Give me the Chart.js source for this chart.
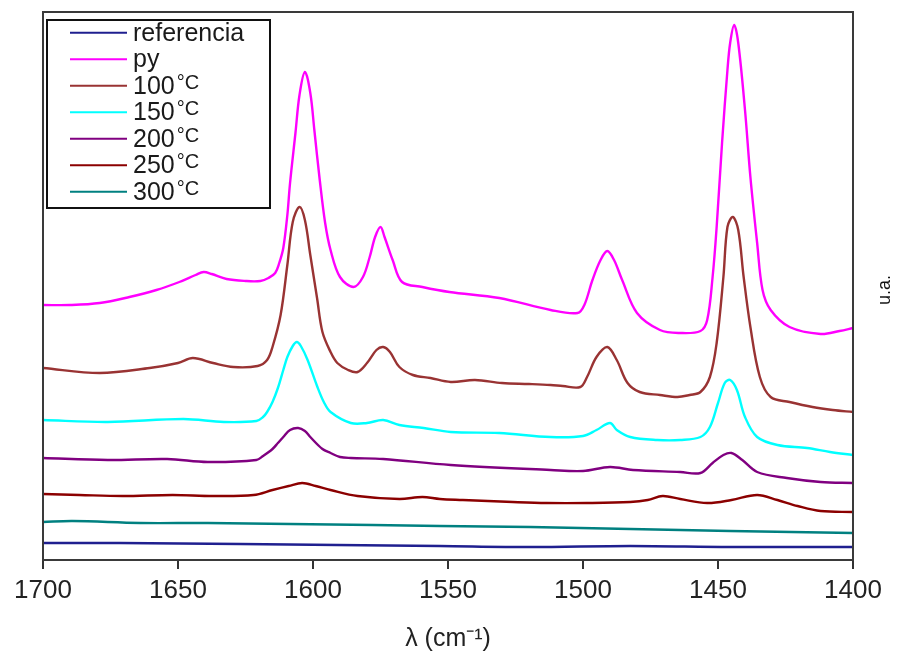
<!DOCTYPE html>
<html>
<head>
<meta charset="utf-8">
<script src="https://cdn.jsdelivr.net/npm/chart.js@4/dist/chart.umd.min.js"></script>
<style>
  html, body { margin: 0; padding: 0; background: #fff; }
  #wrap { width: 902px; height: 657px; position: relative; }
</style>
</head>
<body>
<div id="wrap"><canvas id="c"></canvas></div>
<script>
// IR spectra of adsorbed pyridine, offset vertically (arbitrary units)
const xTicks = [1400, 1450, 1500, 1550, 1600, 1650, 1700];

const seriesLabels = ['referencia', 'py', '100°C', '150°C', '200°C', '250°C', '300°C'];
const seriesColors = ['#1f1f8f', '#ff00ff', '#993333', '#00ffff', '#800080', '#8b0000', '#008080'];

const refWn  = [1700, 1671.5, 1627, 1591, 1553, 1519.5, 1482.5, 1445.5, 1400];
const refAbs = [17, 17, 16, 15, 14, 13, 14, 13, 13];

const pyWn  = [1700, 1690, 1679, 1668, 1658, 1649.5, 1643.5, 1640.5, 1637.5, 1632, 1625, 1619.5, 1616.5, 1614, 1612.5, 1611,
               1609.5, 1608.5, 1606.5, 1605, 1603, 1601, 1599.5, 1597.5, 1595.5, 1593.5, 1590, 1585, 1581.5, 1579, 1577, 1575,
               1573.5, 1570.5, 1567, 1559.5, 1549.5, 1531, 1512, 1502, 1499.5, 1496.5, 1493.5, 1491, 1488.5, 1485.5, 1480,
               1471.5, 1464, 1456.5, 1454, 1452, 1450.5, 1448.5, 1446.5, 1445.5, 1444, 1442.5, 1440, 1438, 1435.5, 1433.5,
               1430.5, 1423.5, 1412, 1405, 1400];
const pyAbs = [255, 255, 257, 263, 270, 278, 285, 288, 286, 281, 279, 279, 282, 287, 297, 312,
               345, 377, 427, 465, 488, 467, 430, 380, 337, 310, 283, 273, 283, 303, 323, 333,
               323, 300, 278, 273, 268, 262, 250, 247, 255, 280, 300, 309, 300, 280, 247,
               230, 227, 229, 240, 283, 333, 417, 490, 517, 535, 517, 450, 383, 317, 270,
               250, 233, 226, 229, 232];

const t100Wn  = [1700, 1679, 1660.5, 1650, 1644.5, 1637, 1629.5, 1620.5, 1617, 1615, 1612, 1609.5, 1607.5, 1605, 1603, 1601,
                 1598.5, 1596.5, 1593.5, 1591, 1587, 1583.5, 1580, 1576.5, 1574, 1571.5, 1568, 1563, 1556.5, 1549, 1540,
                 1530, 1520, 1512, 1507.5, 1501, 1498.5, 1495, 1491, 1487.5, 1483.5, 1479, 1471.5, 1465, 1460.5, 1456.5,
                 1453, 1450.5, 1448, 1446.5, 1444.5, 1442.5, 1440.5, 1438, 1434.5, 1430.5, 1423.5, 1415, 1407.5, 1400];
const t100Abs = [192, 187, 192, 197, 202, 197, 193, 194, 200, 213, 245, 295, 338, 353, 340, 305,
                 262, 228, 208, 197, 190, 188, 197, 210, 213, 208, 193, 185, 182, 178, 180,
                 177, 176, 175, 174, 173, 183, 203, 213, 200, 177, 168, 165, 163, 165, 168,
                 183, 217, 283, 333, 343, 330, 283, 233, 183, 163, 158, 153, 150, 148];

const t150Wn  = [1700, 1676, 1648, 1633, 1621, 1618.5, 1617, 1615, 1613, 1611, 1609.5, 1607.5, 1606, 1604.5, 1602, 1598.5,
                 1596, 1593.5, 1586, 1580, 1574, 1568, 1559, 1549, 1531, 1512, 1500, 1495, 1490, 1487.5, 1482.5, 1472.5,
                 1464, 1456.5, 1453, 1450, 1447.5, 1445.5, 1443, 1440, 1435.5, 1428, 1417, 1408.5, 1400];
const t150Abs = [140, 138, 141, 138, 139, 143, 148, 158, 172, 190, 203, 214, 218, 214, 200, 174,
                 158, 148, 137, 137, 140, 135, 132, 128, 127, 123, 124, 130, 137, 130, 123, 120,
                 120, 123, 133, 157, 177, 180, 170, 143, 123, 115, 112, 108, 105];

const t200Wn  = [1700, 1676, 1654, 1639, 1621, 1618.5, 1615, 1613, 1611, 1608.5, 1605.5, 1603, 1601, 1596.5, 1593.5, 1590,
                 1586, 1574, 1549, 1512, 1500, 1490, 1481.5, 1464, 1456.5, 1452, 1448, 1445, 1441, 1435.5, 1424.5, 1412, 1400];
const t200Abs = [102, 100, 101, 98, 100, 104, 111, 117, 123, 130, 132, 129, 123, 111, 107, 103,
                 102, 101, 95, 90, 89, 93, 90, 88, 87, 97, 105, 107, 100, 88, 82, 78, 77];

const t250Wn  = [1700, 1686.5, 1670.5, 1652, 1637, 1622, 1615, 1609, 1604, 1599, 1593.5, 1583.5, 1568, 1559.5, 1553,
                 1544.5, 1526, 1513.5, 1498.5, 1482.5, 1476, 1470.5, 1464, 1454, 1445, 1435.5, 1428, 1420.5, 1412, 1400];
const t250Abs = [66, 65, 64, 65, 64, 65, 70, 74, 77, 74, 70, 64, 61, 63, 61,
                 60, 58, 57, 57, 58, 60, 64, 61, 57, 60, 65, 60, 54, 49, 48];

const t300Wn  = [1700, 1689, 1664, 1639, 1608.5, 1578, 1553, 1519.5, 1482.5, 1445.5, 1400];
const t300Abs = [38, 39, 37, 37, 36, 35, 34, 33, 31, 29, 27];

const seriesWn  = [refWn, pyWn, t100Wn, t150Wn, t200Wn, t250Wn, t300Wn];
const seriesAbs = [refAbs, pyAbs, t100Abs, t150Abs, t200Abs, t250Abs, t300Abs];

const FONT = 'Liberation Sans, Arial, Helvetica, sans-serif';

const datasets = seriesLabels.map((label, i) => ({
  label,
  data: seriesWn[i].map((w, k) => ({ x: w, y: seriesAbs[i][k] })),
  borderColor: seriesColors[i],
  backgroundColor: seriesColors[i],
  borderWidth: 2.4,
  pointRadius: 0,
  fill: false,
  tension: 0.35
}));

// Box around the plotting area
const framePlugin = {
  id: 'frame',
  afterDatasetsDraw(chart) {
    const { ctx, chartArea: a } = chart;
    ctx.save();
    ctx.strokeStyle = '#3a3a3a';
    ctx.lineWidth = 2;
    ctx.strokeRect(a.left, a.top, a.right - a.left, a.bottom - a.top);
    ctx.restore();
  }
};

// Boxed legend in the upper-left corner of the plot
const boxLegendPlugin = {
  id: 'boxLegend',
  afterDraw(chart) {
    const { ctx, chartArea: a } = chart;
    const bx = a.left + 4, by = a.top + 8, bw = 223, bh = 188;
    ctx.save();
    ctx.fillStyle = '#fff';
    ctx.fillRect(bx, by, bw, bh);
    ctx.strokeStyle = '#111';
    ctx.lineWidth = 2;
    ctx.strokeRect(bx, by, bw, bh);
    const step = 26.5;
    chart.data.datasets.forEach((ds, i) => {
      const y = by + 12.7 + i * step;
      ctx.strokeStyle = ds.borderColor;
      ctx.lineWidth = 2;
      ctx.beginPath();
      ctx.moveTo(a.left + 27, y);
      ctx.lineTo(a.left + 84, y);
      ctx.stroke();
      ctx.fillStyle = '#1a1a1a';
      ctx.textBaseline = 'alphabetic';
      ctx.textAlign = 'left';
      const base = y + 8;
      const tx = a.left + 90;
      if (ds.label.endsWith('°C')) {
        const num = ds.label.slice(0, -2);
        ctx.font = '25px ' + FONT;
        ctx.fillText(num, tx, base);
        const w = ctx.measureText(num).width;
        ctx.font = '20px ' + FONT;
        ctx.fillText('°C', tx + w + 2, base - 5);
      } else {
        ctx.font = '25px ' + FONT;
        ctx.fillText(ds.label, tx, base);
      }
    });
    ctx.restore();
  }
};

// Rotated unit label on the right side
const unitLabelPlugin = {
  id: 'unitLabel',
  afterDraw(chart) {
    const { ctx, chartArea: a } = chart;
    ctx.save();
    ctx.translate(a.right + 32, (a.top + a.bottom) / 2 + 4);
    ctx.rotate(-Math.PI / 2);
    ctx.font = '18px ' + FONT;
    ctx.fillStyle = '#111';
    ctx.textAlign = 'center';
    ctx.textBaseline = 'middle';
    ctx.fillText('u.a.', 0, 0);
    ctx.restore();
  }
};

new Chart(document.getElementById('c'), {
  type: 'line',
  data: { datasets },
  options: {
    responsive: true,
    maintainAspectRatio: false,
    animation: false,
    layout: { padding: { left: 43, right: 49, top: 12, bottom: 0 } },
    plugins: { legend: { display: false }, tooltip: { enabled: false } },
    scales: {
      x: {
        type: 'linear',
        reverse: true,
        min: 1400,
        max: 1700,
        afterBuildTicks: s => { s.ticks = xTicks.map(v => ({ value: v })); },
        afterFit: s => { s.height = 97; },
        border: { display: false },
        grid: { drawOnChartArea: false, drawTicks: true, tickLength: 9, color: '#333', lineWidth: 2 },
        ticks: {
          font: { family: FONT, size: 26 },
          color: '#222',
          padding: 6,
          maxRotation: 0,
          autoSkip: false,
          callback: v => String(v)
        },
        title: {
          display: true,
          text: 'λ (cm⁻¹)',
          font: { family: FONT, size: 25 },
          color: '#222',
          padding: { top: 0, bottom: 3 }
        }
      },
      y: { display: false, min: 0, max: 548 }
    }
  },
  plugins: [framePlugin, boxLegendPlugin, unitLabelPlugin]
});
</script>
</body>
</html>
